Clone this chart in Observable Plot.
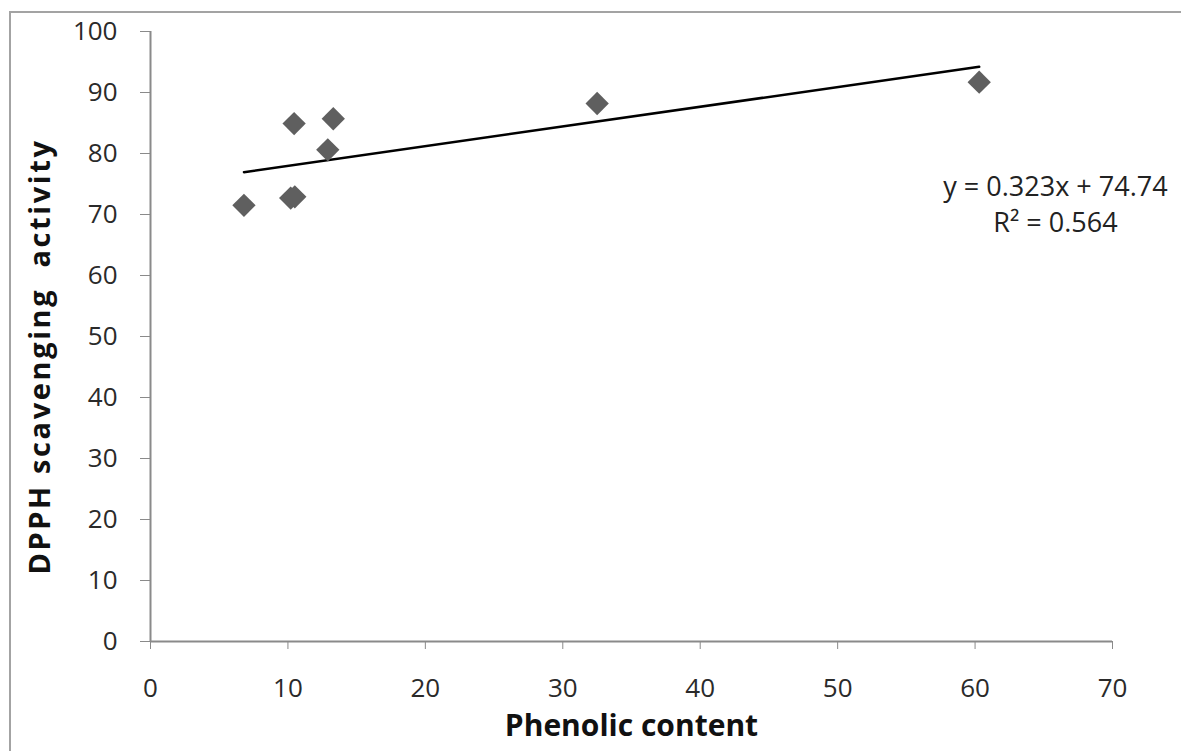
<!DOCTYPE html>
<html>
<head>
<meta charset="utf-8">
<script src="https://cdn.jsdelivr.net/npm/d3@7"></script>
<script src="https://cdn.jsdelivr.net/npm/@observablehq/plot@0.6"></script>
<style>
  html, body { margin: 0; padding: 0; background: #fff; overflow: hidden; }
  #wrap { position: relative; width: 1181px; height: 751px; }
  #border { position: absolute; left: 9px; top: 11px; width: 1200px; height: 800px; border: 2px solid #a3a3a3; box-sizing: border-box; }
  #chart { position: absolute; left: 0; top: 0; }
</style>
</head>
<body>
<div id="wrap"><div id="border"></div><div id="chart"></div></div>
<script>
const phenolic = [6.8, 10.2, 10.5, 10.45, 12.9, 13.3, 32.5, 60.3];
const dpph = [71.5, 72.7, 72.9, 84.9, 80.6, 85.7, 88.2, 91.7];
const xTicks = [0, 10, 20, 30, 40, 50, 60, 70];
const yTicks = [0, 10, 20, 30, 40, 50, 60, 70, 80, 90, 100];
const slope = 0.323, intercept = 74.74;
const eqLines = ["y = 0.323x + 74.74", "R\u00B2 = 0.564"];
const xLabel = "Phenolic content";
const yLabel = "DPPH scavenging  activity";

const points = phenolic.map((x, i) => ({x, y: dpph[i]}));
const trend = d3.extent(phenolic).map(x => ({x, y: slope * x + intercept}));

const chart = Plot.plot({
  width: 1181,
  height: 751,
  marginLeft: 150,
  marginTop: 31,
  marginRight: 69,
  marginBottom: 110,
  x: {domain: [0, 70]},
  y: {domain: [0, 100]},
  style: {fontFamily: "'Open Sans', sans-serif", fontSize: "26px", background: "transparent", color: "#222"},
  marks: [
    Plot.axisY({ticks: yTicks, tickSize: 10, tickPadding: 23, label: null, stroke: "#8a8a8a", fill: "#2a2a2a", fontSize: 26}),
    Plot.axisX({ticks: xTicks, tickSize: 8, tickPadding: 29, label: null, stroke: "#8a8a8a", fill: "#2a2a2a", fontSize: 26}),
    Plot.ruleX([0], {stroke: "#8a8a8a", strokeWidth: 2}),
    Plot.ruleY([0], {stroke: "#8a8a8a", strokeWidth: 2}),
    Plot.line(trend, {x: "x", y: "y", stroke: "#000", strokeWidth: 2.5}),
    Plot.dot(points, {x: "x", y: "y", symbol: "diamond2", r: 10.5, fill: "#5f5f5f", stroke: "none"}),
    Plot.text([eqLines[0]], {x: 65.85, y: 74.4, fontSize: 27, fill: "#222"}),
    Plot.text([eqLines[1]], {x: 65.85, y: 68.5, fontSize: 27, fill: "#222"}),
    Plot.text([xLabel], {frameAnchor: "bottom", dy: 94, fontWeight: "bold", fontSize: 30, fill: "#111"}),
    Plot.text([yLabel], {frameAnchor: "left", textAnchor: "middle", dx: -110, dy: 20, rotate: -90, fontWeight: "bold", fontSize: 29, fill: "#111"})
  ]
});
d3.select(chart).selectAll("text").filter(function() { return this.textContent === yLabel; }).style("letter-spacing", "2.6px");
document.getElementById("chart").appendChild(chart);
</script>
</body>
</html>
